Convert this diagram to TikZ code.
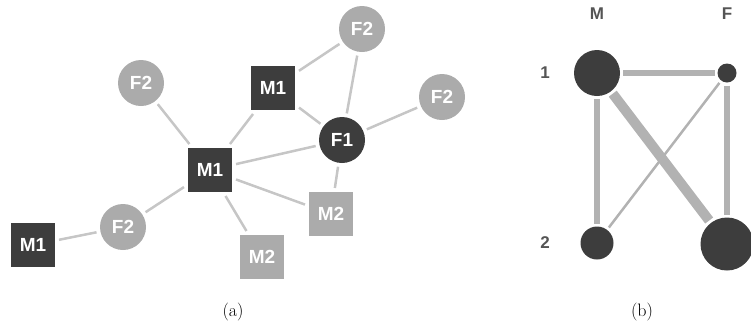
\documentclass[tikz,border=0pt]{standalone}
\usepackage{fontspec}
\newfontfamily\arialb[BoldFont={* Bold}]{Liberation Sans}
\begin{document}
\begin{tikzpicture}[x=1pt,y=-1pt,
  every node/.style={inner sep=0pt, outer sep=4pt},
  lbl/.style={text=white, font=\arialb\bfseries\fontsize{19}{19}\selectfont},
  dsq/.style={rectangle, fill=darknode, minimum size=44pt, lbl},
  lsq/.style={rectangle, fill=lightnode, minimum size=44pt, lbl},
  dci/.style={circle, fill=darknode, minimum size=46pt, lbl},
  lci/.style={circle, fill=lightnode, minimum size=46pt, lbl},
  edge/.style={draw=edgegray, line width=2.5pt},
  bedge/.style={draw=bedgegray},
  bdot/.style={circle, fill=darknode, outer sep=3pt},
  hdr/.style={text=hdrgray, font=\arialb\bfseries\fontsize{17}{17}\selectfont, outer sep=0pt},
  captext/.style={font=\fontsize{18}{18}\selectfont, outer sep=0pt}
]
\definecolor{darknode}{HTML}{3D3D3D}
\definecolor{lightnode}{HTML}{ABABAB}
\definecolor{edgegray}{HTML}{C6C6C6}
\definecolor{bedgegray}{HTML}{B2B2B2}
\definecolor{hdrgray}{HTML}{555555}
\useasboundingbox (0,0) rectangle (751,325);

% panel (a)
\node[lci] (f2tr) at (362,29) {F2};
\node[dsq] (m1t) at (273,88) {M1};
\node[lci] (f2l) at (141,83) {F2};
\node[lci] (f2r) at (442,97) {F2};
\node[dci] (f1) at (342,140) {F1};
\node[dsq] (m1c) at (210,170) {M1};
\node[lsq] (m2r) at (331,214) {M2};
\node[lci] (f2bl) at (123,227) {F2};
\node[dsq] (m1bl) at (33,245) {M1};
\node[lsq] (m2b) at (262,257) {M2};

\draw[edge] (m1t) -- (f2tr);
\draw[edge] (f2tr) -- (f1);
\draw[edge] (m1t) -- (f1);
\draw[edge] (f1) -- (f2r);
\draw[edge] (m1c) -- (f2l);
\draw[edge] (m1c) -- (m1t);
\draw[edge] (m1c) -- (f1);
\draw[edge] (m1c) -- (m2r);
\draw[edge] (f1) -- (m2r);
\draw[edge] (m1c) -- (m2b);
\draw[edge] (m1c) -- (f2bl);
\draw[edge] (f2bl) -- (m1bl);

\node[captext] (capa) at (233,312) {(a)};

% panel (b)
\node[hdr] (hm) at (597,14) {M};
\node[hdr] (hf) at (727,14) {F};
\node[hdr] (h1) at (545,73) {1};
\node[hdr] (h2) at (545,243) {2};

\node[bdot, minimum size=46pt] (bm1) at (597,73) {};
\node[bdot, minimum size=19pt] (bf1) at (727,73) {};
\node[bdot, minimum size=33pt] (bm2) at (597,243) {};
\node[bdot, minimum size=53pt] (bf2) at (727,244) {};

\draw[bedge, line width=6pt] (bm1) -- (bf1);
\draw[bedge, line width=6pt] (bm1) -- (bm2);
\draw[bedge, line width=6pt] (bf1) -- (bf2);
\draw[bedge, line width=10pt] (bm1) -- (bf2);
\draw[bedge, line width=2.5pt] (bf1) -- (bm2);

\node[captext] (capb) at (642,312) {(b)};
\end{tikzpicture}
\end{document}
